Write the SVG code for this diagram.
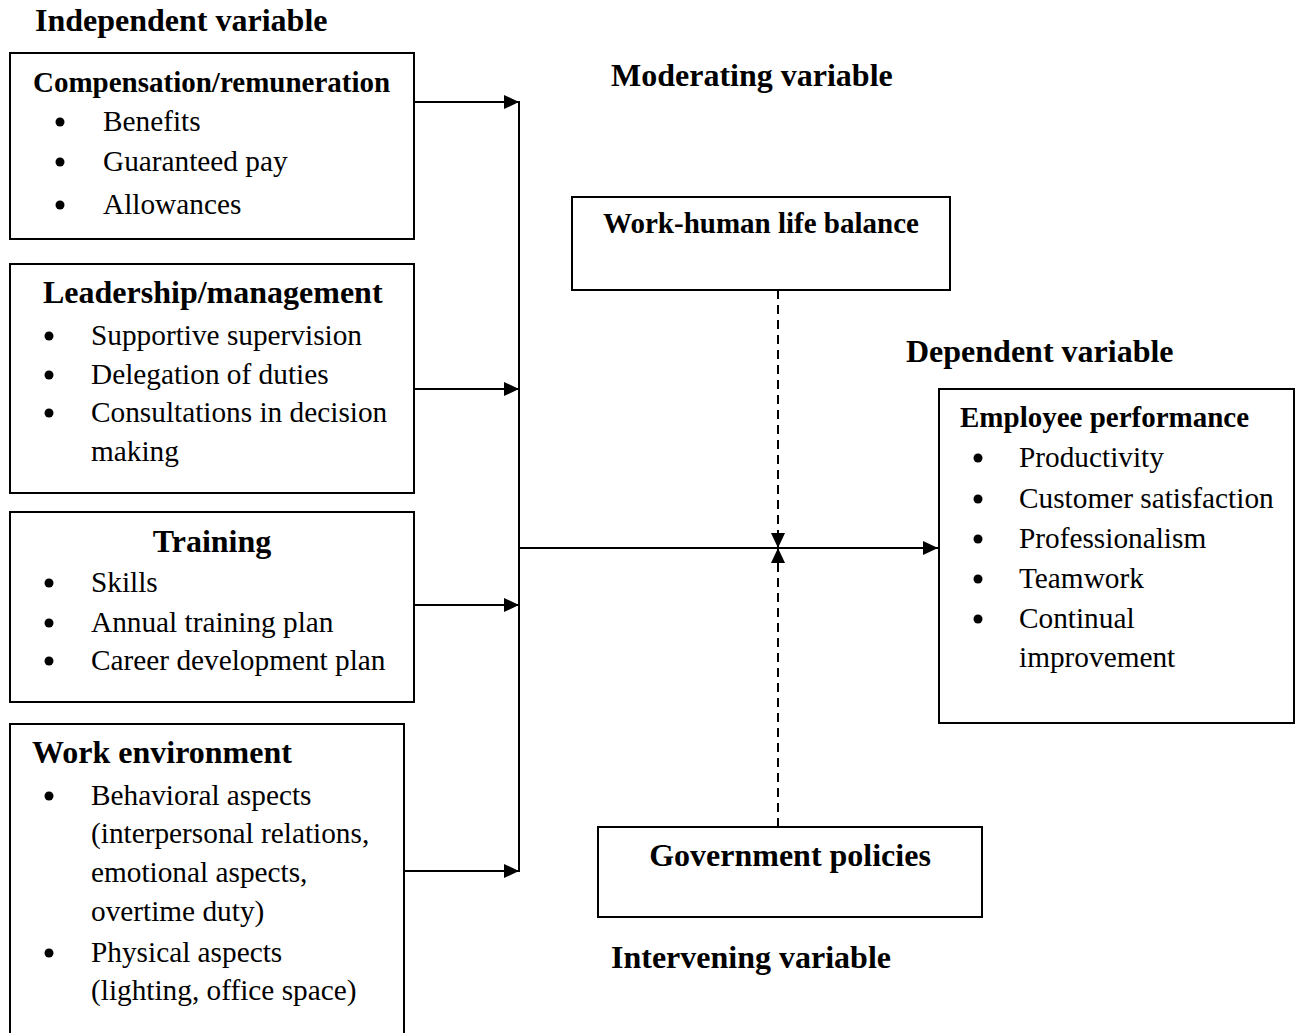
<svg xmlns="http://www.w3.org/2000/svg" width="1300" height="1033" viewBox="0 0 1300 1033">
<style>
.box{fill:#fff;stroke:#000;stroke-width:2}
.t{font-family:"Liberation Serif","Times New Roman",serif;fill:#000}
.h{font-weight:bold;font-size:32px}
.hs{font-weight:bold;font-size:29px}
.b{font-size:29.3px}
.ln{stroke:#000;stroke-width:2;fill:none}
.dash{stroke:#000;stroke-width:2;fill:none;stroke-dasharray:9 6}
.blt{fill:#000}
</style>
<defs>
<marker id="ah" viewBox="0 0 15 14" refX="15" refY="7" markerWidth="15" markerHeight="14" markerUnits="userSpaceOnUse" orient="auto">
<path d="M0,0 L15,7 L0,14 Z" fill="#000"/>
</marker>
</defs>
<rect width="1300" height="1033" fill="#fff"/>

<g id="labels" class="t h">
<text x="35" y="31">Independent variable</text>
<text x="611" y="86">Moderating variable</text>
<text x="906" y="362">Dependent variable</text>
<text x="611" y="968">Intervening variable</text>
</g>

<g id="compensation">
<rect class="box" x="10" y="53" width="404" height="186"/>
<text class="t hs" x="33" y="92">Compensation/remuneration</text>
<circle class="blt" cx="60" cy="122" r="4.5"/><text class="t b" x="103" y="131">Benefits</text>
<circle class="blt" cx="60" cy="162" r="4.5"/><text class="t b" x="103" y="171">Guaranteed pay</text>
<circle class="blt" cx="60" cy="205" r="4.5"/><text class="t b" x="103" y="214">Allowances</text>
</g>

<g id="leadership">
<rect class="box" x="10" y="264" width="404" height="229"/>
<text class="t h" x="43" y="303">Leadership/management</text>
<circle class="blt" cx="49" cy="336" r="4.5"/><text class="t b" x="91" y="345">Supportive supervision</text>
<circle class="blt" cx="49" cy="375" r="4.5"/><text class="t b" x="91" y="384">Delegation of duties</text>
<circle class="blt" cx="49" cy="413" r="4.5"/><text class="t b" x="91" y="422">Consultations in decision</text>
<text class="t b" x="91" y="461">making</text>
</g>

<g id="training">
<rect class="box" x="10" y="512" width="404" height="190"/>
<text class="t h" x="212" y="552" text-anchor="middle">Training</text>
<circle class="blt" cx="49" cy="583" r="4.5"/><text class="t b" x="91" y="592">Skills</text>
<circle class="blt" cx="49" cy="623" r="4.5"/><text class="t b" x="91" y="632">Annual training plan</text>
<circle class="blt" cx="49" cy="661" r="4.5"/><text class="t b" x="91" y="670">Career development plan</text>
</g>

<g id="workenv">
<rect class="box" x="10" y="724" width="394" height="330"/>
<text class="t h" x="32" y="763">Work environment</text>
<circle class="blt" cx="49" cy="796" r="4.5"/><text class="t b" x="91" y="805">Behavioral aspects</text>
<text class="t b" x="91" y="843">(interpersonal relations,</text>
<text class="t b" x="91" y="882">emotional aspects,</text>
<text class="t b" x="91" y="921">overtime duty)</text>
<circle class="blt" cx="49" cy="953" r="4.5"/><text class="t b" x="91" y="962">Physical aspects</text>
<text class="t b" x="91" y="1000">(lighting, office space)</text>
</g>

<g id="worklife">
<rect class="box" x="572" y="197" width="378" height="93"/>
<text class="t hs" x="761" y="233" text-anchor="middle">Work-human life balance</text>
</g>

<g id="government">
<rect class="box" x="598" y="827" width="384" height="90"/>
<text class="t h" x="790" y="866" text-anchor="middle">Government policies</text>
</g>

<g id="performance">
<rect class="box" x="939" y="389" width="355" height="334"/>
<text class="t hs" x="960" y="427">Employee performance</text>
<circle class="blt" cx="978" cy="458" r="4.5"/><text class="t b" x="1019" y="467">Productivity</text>
<circle class="blt" cx="978" cy="499" r="4.5"/><text class="t b" x="1019" y="508">Customer satisfaction</text>
<circle class="blt" cx="978" cy="539" r="4.5"/><text class="t b" x="1019" y="548">Professionalism</text>
<circle class="blt" cx="978" cy="579" r="4.5"/><text class="t b" x="1019" y="588">Teamwork</text>
<circle class="blt" cx="978" cy="619" r="4.5"/><text class="t b" x="1019" y="628">Continual</text>
<text class="t b" x="1019" y="667">improvement</text>
</g>

<g id="connectors">
<line class="ln" x1="519" y1="101" x2="519" y2="872"/>
<line class="ln" x1="414" y1="102" x2="519" y2="102" marker-end="url(#ah)"/>
<line class="ln" x1="414" y1="389" x2="519" y2="389" marker-end="url(#ah)"/>
<line class="ln" x1="414" y1="605" x2="519" y2="605" marker-end="url(#ah)"/>
<line class="ln" x1="404" y1="871" x2="519" y2="871" marker-end="url(#ah)"/>
<line class="ln" x1="519" y1="548" x2="938" y2="548" marker-end="url(#ah)"/>
<line class="dash" x1="778" y1="290" x2="778" y2="548" marker-end="url(#ah)"/>
<line class="dash" x1="778" y1="827" x2="778" y2="548" marker-end="url(#ah)"/>
</g>
</svg>
